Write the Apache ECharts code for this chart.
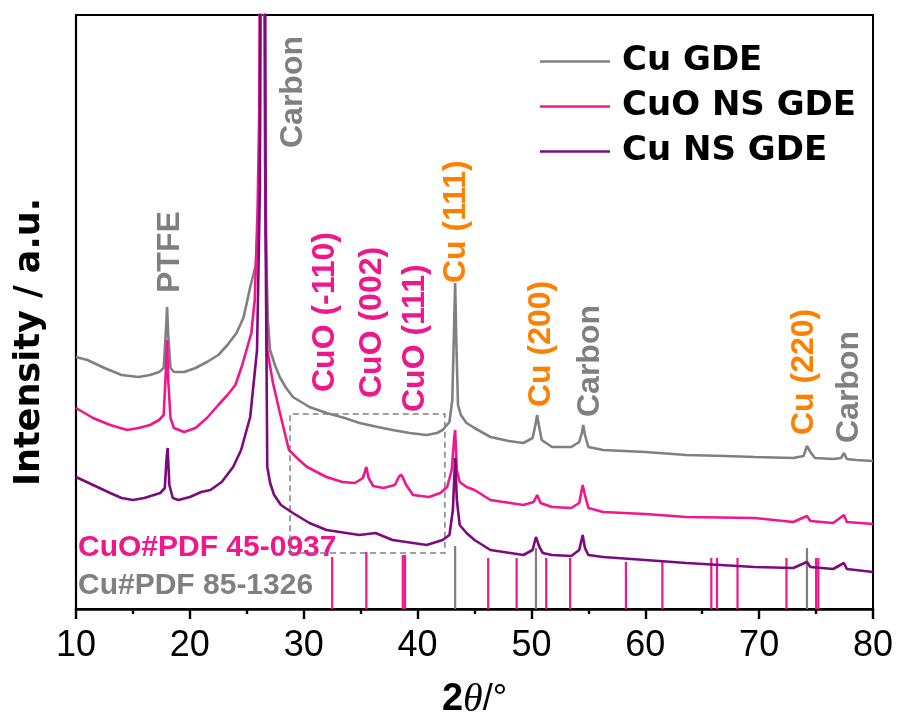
<!DOCTYPE html>
<html>
<head>
<meta charset="utf-8">
<script src="https://cdn.jsdelivr.net/npm/echarts@6/dist/echarts.min.js"></script>
<style>
html,body{margin:0;padding:0;background:#fff;}
#chart{width:897px;height:715px;}
</style>
</head>
<body>
<div id="chart"></div>
<script>
// ---- data (2θ in degrees, intensity in arbitrary units) ----
const seriesNames = ['Cu GDE', 'CuO NS GDE', 'Cu NS GDE'];

const cuGDE = [[10.0,252],[11.0,249],[12.5,241],[14.0,234],[15.5,232],[16.5,234],[17.3,237],[17.7,241],[17.9,279],[18.0,302],[18.1,274],[18.3,241],[18.6,237],[19.5,237],[20.5,241],[21.5,247],[22.5,254],[23.3,264],[24.1,276],[24.7,291],[25.0,306],[25.3,322],[25.8,344],[26.0,389],[26.15,459],[26.25,620],[26.4,1000],[26.55,620],[26.7,359],[26.85,289],[27.04,259],[27.5,243],[27.9,232],[28.4,222],[29.05,212],[30.5,202],[32.0,196],[33.6,191],[34.9,186],[36.5,182],[37.8,179],[39.3,176],[40.8,174],[41.7,176],[42.2,179],[42.8,187],[43.05,209],[43.2,279],[43.3,326],[43.4,269],[43.55,204],[43.8,194],[44.3,186],[45.0,181],[46.4,172],[48.0,168],[49.3,166],[50.1,171],[50.35,184],[50.5,194],[50.65,184],[50.9,169],[51.8,162],[53.5,162],[54.2,167],[54.45,177],[54.55,184],[54.7,174],[55.0,162],[56.3,159],[60.0,157],[63.6,154],[67.0,153],[69.6,152],[73.0,151],[73.9,153],[74.2,163],[74.5,157],[74.9,151],[76.5,150],[77.2,151],[77.45,156],[77.7,150],[78.5,149],[80.0,148]];

const cuoNSGDE = [[10.0,201],[11.5,191],[13.0,184],[14.5,179],[15.5,181],[16.5,184],[17.3,189],[17.7,194],[17.9,239],[18.0,269],[18.1,229],[18.3,191],[18.6,181],[19.5,177],[20.5,181],[21.5,191],[22.5,204],[23.3,214],[24.0,224],[24.6,244],[25.1,264],[25.4,276],[25.7,309],[25.95,400],[26.1,500],[26.2,800],[26.5,800],[26.6,450],[26.8,259],[27.3,226],[27.85,199],[28.7,159],[29.5,150],[30.3,142],[32.0,132],[33.4,127],[34.5,126],[35.2,131],[35.5,142],[35.7,131],[36.1,123],[37.0,121],[38.0,124],[38.4,133],[38.6,134],[39.0,124],[39.6,114],[41.0,112],[42.0,116],[42.6,122],[43.0,139],[43.2,169],[43.3,179],[43.45,139],[43.7,127],[44.3,122],[45.0,119],[46.4,109],[49.3,104],[50.2,107],[50.5,114],[50.8,106],[51.8,102],[53.5,101],[54.2,106],[54.5,124],[54.7,114],[55.0,101],[56.3,97],[60.0,95],[63.6,92],[69.6,91],[73.0,87],[74.2,93],[74.5,88],[76.5,86],[77.45,94],[77.7,87],[80.0,85]];

const cuNSGDE = [[10.0,132],[11.5,124],[13.0,116],[14.0,111],[15.0,109],[16.0,111],[17.4,116],[17.8,121],[17.95,150],[18.05,161],[18.2,124],[18.5,111],[19.0,109],[20.0,112],[21.0,117],[21.8,119],[22.8,127],[23.8,142],[24.5,159],[25.3,192],[25.9,259],[26.15,420],[26.2,800],[26.6,800],[26.65,380],[26.8,142],[27.05,126],[27.4,114],[28.0,104],[29.05,96],[30.5,86],[32.0,79],[34.9,74],[36.3,76],[37.8,69],[40.8,64],[42.2,69],[42.8,74],[43.1,99],[43.3,151],[43.45,109],[43.7,84],[44.3,76],[45.0,69],[46.4,59],[49.3,54],[50.1,59],[50.4,72],[50.7,62],[51.0,56],[51.8,54],[53.5,53],[54.2,59],[54.5,74],[54.7,61],[55.0,54],[56.3,52],[60.0,49],[63.6,46],[69.6,42],[73.0,41],[74.2,47],[74.5,42],[76.5,40],[77.45,46],[77.7,40],[80.0,37]];

// reference stick patterns [2θ, stick height]
const cuoPDF = [[32.5,52],[35.5,57],[38.7,54],[38.9,54],[46.2,51],[48.7,51],[51.3,51],[53.4,51],[58.3,47],[61.5,47],[65.8,51],[66.3,51],[68.1,51],[72.4,51],[75.0,51],[75.2,51]];
const cuPDF = [[43.3,63],[50.4,61],[74.2,61]];
const pdfLabels = ['CuO#PDF 45-0937', 'Cu#PDF 85-1326'];

// peak annotations
const annoText = ['PTFE','Carbon','CuO (-110)','CuO (002)','CuO (111)','Cu (111)','Cu (200)','Carbon','Cu (220)','Carbon'];
const annoX = [18.26, 29.06, 31.9, 36.0, 39.75, 43.37, 50.84, 55.14, 73.94, 77.89];
const annoY = [316, 461, 217, 211, 197, 326, 202, 192, 174, 166];
const annoKind = ['phase','phase','cuo','cuo','cuo','cu','cu','phase','cu','phase'];

// dashed highlight box [2θ, intensity]
const boxFrom = [28.8, 56];
const boxTo = [42.4, 195];

const xTicks = [10, 20, 30, 40, 50, 60, 70, 80];

// ---- styles ----
const C_GRAY = '#808080', C_PINK = '#f0168c', C_PURPLE = '#7d0a7d', C_ORANGE = '#ff8000';
const kindColor = {phase: C_GRAY, cuo: C_PINK, cu: C_ORANGE};

const chart = echarts.init(document.getElementById('chart'), null, {renderer: 'canvas'});

function stickSeries(name, data, color) {
  return {
    name: name, type: 'custom', data: data, silent: true,
    encode: {x: 0, y: 1},
    renderItem: function (params, api) {
      const x = api.value(0), h = api.value(1);
      const p0 = api.coord([x, 0]);
      const p1 = api.coord([x, h]);
      return {type: 'line', shape: {x1: p0[0], y1: p0[1], x2: p1[0], y2: p1[1]},
        style: {stroke: color, lineWidth: 2.2}};
    }
  };
}

function lineSeries(name, data, color, extra) {
  return Object.assign({
    name: name, type: 'line', data: data, showSymbol: false, symbol: 'none',
    clip: true, silent: true,
    lineStyle: {color: color, width: 2.6}, itemStyle: {color: color}
  }, extra || {});
}

const option = {
  backgroundColor: '#fff',
  animation: false,
  grid: {left: 76, right: 24, top: 15, bottom: 106, show: true, borderColor: '#000', borderWidth: 2,
    containLabel: false, outerBoundsMode: 'none'},
  legend: {
    data: seriesNames, orient: 'vertical', left: 540, top: 39, padding: 0,
    icon: 'rect', itemWidth: 70, itemHeight: 2.5, itemGap: 0,
    textStyle: {fontFamily: 'DejaVu Sans', fontWeight: 'bold', fontSize: 34, color: '#000', lineHeight: 45, padding: [0, 0, 0, 7]}
  },
  xAxis: {
    type: 'value', min: 10, max: 80, interval: 10,
    name: '{b|2}{i|θ}{r|/°}', nameLocation: 'middle', nameGap: 71,
    nameTextStyle: {
      rich: {
        b: {fontFamily: 'Liberation Sans', fontWeight: 'bold', fontSize: 38, color: '#000'},
        i: {fontFamily: 'Liberation Serif', fontStyle: 'italic', fontSize: 40, color: '#000'},
        r: {fontFamily: 'Liberation Sans', fontSize: 36, color: '#000'}
      }
    },
    axisLine: {show: true, lineStyle: {color: '#000', width: 2.6}},
    axisTick: {show: true, inside: false, length: 10, lineStyle: {color: '#000', width: 2.4}},
    minorTick: {show: true, splitNumber: 2, length: 5, lineStyle: {color: '#000', width: 2.4}},
    axisLabel: {fontFamily: 'Liberation Sans', fontSize: 36, color: '#000', margin: 19,
      formatter: function (v) { return xTicks.indexOf(v) >= 0 ? String(v) : ''; }},
    splitLine: {show: false}
  },
  yAxis: {
    type: 'value', min: 0, max: 594,
    name: 'Intensity / a.u.', nameLocation: 'middle', nameRotate: 90, nameGap: 29,
    nameTextStyle: {fontFamily: 'DejaVu Sans', fontWeight: 'bold', fontSize: 35, color: '#000', padding: [0, 60, 0, 0]},
    axisLine: {show: true, lineStyle: {color: '#000', width: 2.2}},
    axisTick: {show: false}, axisLabel: {show: false}, splitLine: {show: false}
  },
  graphic: [
    {type: 'text', left: 78, top: 533, style: {text: pdfLabels[0], fill: C_PINK, font: 'bold 30px "Liberation Sans"'}},
    {type: 'text', left: 78, top: 571, style: {text: pdfLabels[1], fill: C_GRAY, font: 'bold 30px "Liberation Sans"'}}
  ],
  series: [
    stickSeries('CuO PDF', cuoPDF, C_PINK),
    stickSeries('Cu PDF', cuPDF, C_GRAY),
    lineSeries(seriesNames[0], cuGDE, C_GRAY),
    lineSeries(seriesNames[1], cuoNSGDE, C_PINK),
    lineSeries(seriesNames[2], cuNSGDE, C_PURPLE, {
      markArea: {
        silent: true,
        itemStyle: {color: 'rgba(0,0,0,0)', borderColor: '#808080', borderWidth: 1.5, borderType: [6, 4]},
        data: [[{coord: boxFrom}, {coord: boxTo}]]
      }
    }),
    {
      name: 'annotations', type: 'scatter', symbolSize: 0, silent: true,
      itemStyle: {opacity: 1},
      data: annoText.map(function (t, i) {
        return {name: t, value: [annoX[i], annoY[i]],
          label: {color: kindColor[annoKind[i]]}};
      }),
      label: {
        show: true, position: 'inside', rotate: 90, align: 'left', verticalAlign: 'middle',
        opacity: 1,
        fontFamily: 'Liberation Sans', fontWeight: 'bold', fontSize: 32,
        formatter: function (p) { return p.name; }
      }
    }
  ]
};
chart.setOption(option);
</script>
</body>
</html>
